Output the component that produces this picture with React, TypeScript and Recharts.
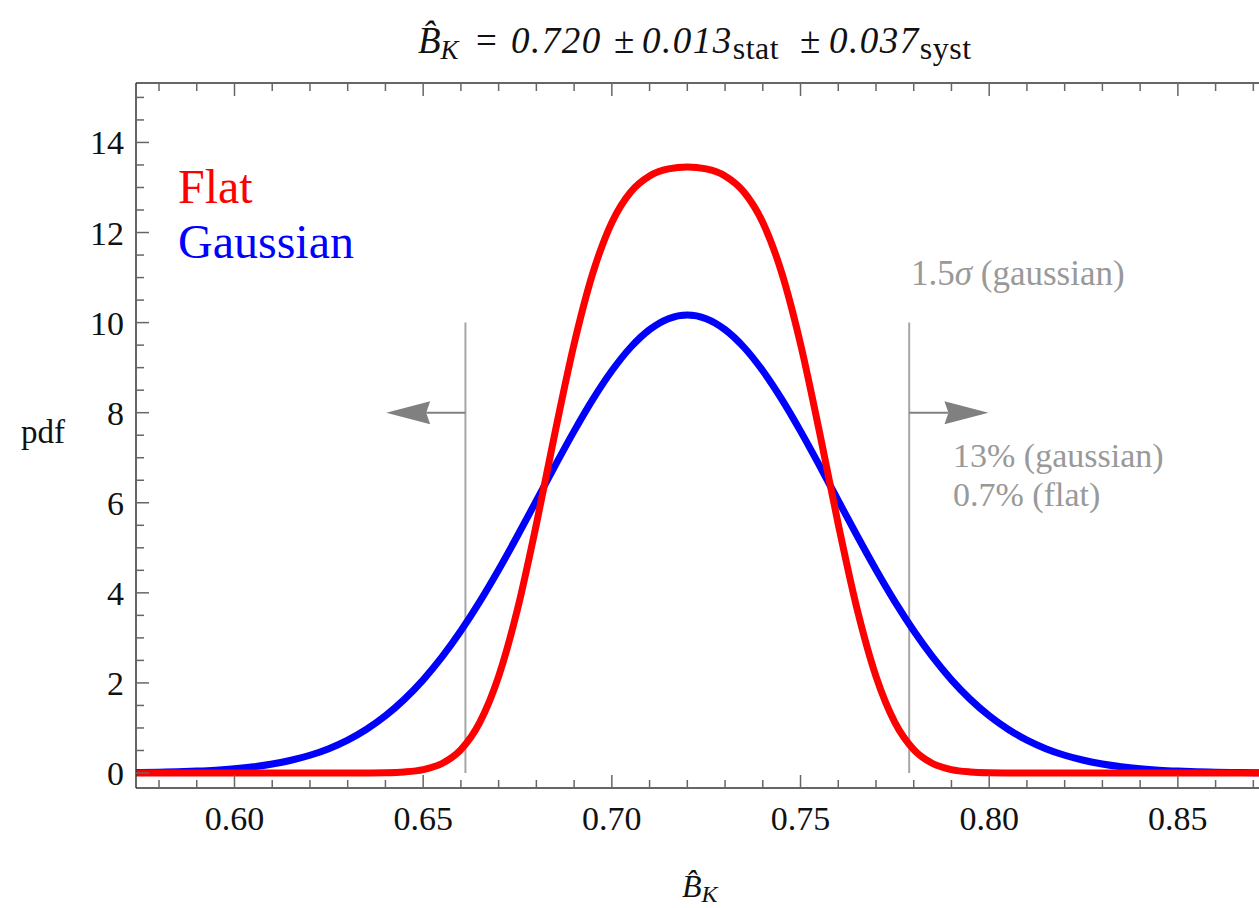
import React from 'react';
import { LineChart, Line, XAxis, YAxis, ReferenceLine } from 'recharts';

// B_K values on the x grid
const bkGrid = [
  0.57, 0.575, 0.58, 0.585, 0.59, 0.595, 0.6, 0.605, 0.61, 0.615, 0.62, 0.625, 0.63, 0.635, 0.64, 0.645,
  0.65, 0.655, 0.66, 0.665, 0.67, 0.675, 0.68, 0.685, 0.69, 0.695, 0.7, 0.705, 0.71, 0.715, 0.72,
  0.725, 0.73, 0.735, 0.74, 0.745, 0.75, 0.755, 0.76, 0.765, 0.77, 0.775, 0.78, 0.785, 0.79, 0.795,
  0.8, 0.805, 0.81, 0.815, 0.82, 0.825, 0.83, 0.835, 0.84, 0.845, 0.85, 0.855, 0.86, 0.865, 0.87, 0.875,
];

// pdf
const gaussianPdf = [
  0.007, 0.011, 0.017, 0.027, 0.042, 0.063, 0.094, 0.138, 0.199, 0.283, 0.394, 0.541, 0.731, 0.972, 1.271, 1.635,
  2.069, 2.576, 3.157, 3.805, 4.513, 5.267, 6.046, 6.83, 7.591, 8.301, 8.93, 9.453, 9.845, 10.088, 10.17,
  10.088, 9.845, 9.453, 8.93, 8.301, 7.591, 6.83, 6.046, 5.267, 4.513, 3.805, 3.157, 2.576, 2.069, 1.635,
  1.271, 0.972, 0.731, 0.541, 0.394, 0.283, 0.199, 0.138, 0.094, 0.063, 0.042, 0.027, 0.017, 0.011, 0.007, 0.004,
];

// pdf
const flatPdf = [
  0, 0, 0, 0, 0, 0, 0, 0, 0, 0, 0, 0, 0, 0.002, 0.006, 0.023,
  0.075, 0.211, 0.519, 1.123, 2.144, 3.637, 5.524, 7.583, 9.526, 11.109, 12.224, 12.901, 13.257, 13.412, 13.454,
  13.412, 13.257, 12.901, 12.224, 11.109, 9.526, 7.583, 5.524, 3.637, 2.144, 1.123, 0.519, 0.211, 0.075, 0.023,
  0.006, 0.002, 0, 0, 0, 0, 0, 0, 0, 0, 0, 0, 0, 0, 0, 0,
];

const xTicks = [
  0.58, 0.59, 0.6, 0.61, 0.62, 0.63, 0.64, 0.65, 0.66, 0.67, 0.68, 0.69, 0.7, 0.71, 0.72,
  0.73, 0.74, 0.75, 0.76, 0.77, 0.78, 0.79, 0.8, 0.81, 0.82, 0.83, 0.84, 0.85, 0.86, 0.87,
];
const xMajor = ['0.60', '0.65', '0.70', '0.75', '0.80', '0.85'];
const yTicks = [
  0, 0.5, 1, 1.5, 2, 2.5, 3, 3.5, 4, 4.5, 5, 5.5, 6, 6.5, 7, 7.5,
  8, 8.5, 9, 9.5, 10, 10.5, 11, 11.5, 12, 12.5, 13, 13.5, 14, 14.5, 15,
];
const yMajor = [0, 2, 4, 6, 8, 10, 12, 14];

// 1.5 sigma cut lines and arrows
const cutLines = [0.6612, 0.7788];
const arrowTips = [0.6402, 0.7998];
const cutTop = 10;
const arrowLevel = 8;

const data = bkGrid.map((bk, i) => ({ bk, gaussian: gaussianPdf[i], flat: flatPdf[i] }));

const FONT = '"Liberation Serif", "Times New Roman", serif';
const GRAY = '#999999';

const BottomTick = ({ x, y, payload }: any) => {
  const label = payload.value.toFixed(2);
  const major = xMajor.includes(label);
  return (
    <g>
      <line x1={x} x2={x} y1={y} y2={y - (major ? 13 : 8)} stroke="#666" strokeWidth={1.5} />
      {major && (
        <text x={x} y={y + 42} textAnchor="middle" fontFamily={FONT} fontSize={34} fill="#111">
          {label}
        </text>
      )}
    </g>
  );
};

const TopTick = ({ x, y, payload }: any) => {
  const major = xMajor.includes(payload.value.toFixed(2));
  return <line x1={x} x2={x} y1={y} y2={y + (major ? 13 : 8)} stroke="#666" strokeWidth={1.5} />;
};

const LeftTick = ({ x, y, payload }: any) => {
  const major = yMajor.includes(payload.value);
  return (
    <g>
      <line x1={x} x2={x + (major ? 13 : 8)} y1={y} y2={y} stroke="#666" strokeWidth={1.5} />
      {major && (
        <text x={x - 12} y={y + 12} textAnchor="end" fontFamily={FONT} fontSize={34} fill="#111">
          {payload.value}
        </text>
      )}
    </g>
  );
};

const Arrow = (props: any) => {
  const { x1, y1, x2, y2 } = props;
  const dir = x2 > x1 ? 1 : -1;
  return (
    <g>
      <line x1={x1} y1={y1} x2={x2 - dir * 40} y2={y2} stroke="#808080" strokeWidth={2} />
      <polygon
        points={`${x2},${y2} ${x2 - dir * 44},${y2 - 11.5} ${x2 - dir * 40},${y2} ${x2 - dir * 44},${y2 + 11.5}`}
        fill="#808080"
      />
    </g>
  );
};

export default function App() {
  return (
    <div style={{ position: 'absolute', left: 0, top: 0, width: 1259, height: 908, background: '#fff' }}>
      <LineChart width={1259} height={908} data={data} margin={{ top: 53, right: 0, bottom: 0, left: 0 }}>
        <XAxis
          xAxisId="bottom"
          dataKey="bk"
          type="number"
          domain={[0.5739, 0.8715]}
          allowDataOverflow
          ticks={xTicks}
          interval={0}
          height={120}
          tickSize={0}
          tickMargin={0}
          tick={<BottomTick />}
          axisLine={{ stroke: '#333', strokeWidth: 1.5 }}
          tickLine={false}
        />
        <XAxis
          xAxisId="top"
          orientation="top"
          dataKey="bk"
          type="number"
          domain={[0.5739, 0.8715]}
          allowDataOverflow
          ticks={xTicks}
          interval={0}
          height={30}
          tickSize={0}
          tickMargin={0}
          tick={<TopTick />}
          axisLine={{ stroke: '#333', strokeWidth: 1.5 }}
          tickLine={false}
        />
        <YAxis
          type="number"
          domain={[-0.333, 15.32]}
          allowDataOverflow
          ticks={yTicks}
          interval={0}
          width={136}
          tickSize={0}
          tickMargin={0}
          tick={<LeftTick />}
          axisLine={{ stroke: '#333', strokeWidth: 1.5 }}
          tickLine={false}
        />
        {cutLines.map((cx) => (
          <ReferenceLine
            key={`cut-${cx}`}
            xAxisId="bottom"
            segment={[{ x: cx, y: 0 }, { x: cx, y: cutTop }]}
            stroke="#a6a6a6"
            strokeWidth={2}
          />
        ))}
        {cutLines.map((cx, i) => (
          <ReferenceLine
            key={`arrow-${cx}`}
            xAxisId="bottom"
            segment={[{ x: cx, y: arrowLevel }, { x: arrowTips[i], y: arrowLevel }]}
            shape={<Arrow />}
          />
        ))}
        <Line
          xAxisId="bottom"
          dataKey="gaussian"
          type="monotone"
          stroke="#0000ff"
          strokeWidth={7}
          dot={false}
          isAnimationActive={false}
        />
        <Line
          xAxisId="bottom"
          dataKey="flat"
          type="monotone"
          stroke="#ff0000"
          strokeWidth={7}
          dot={false}
          isAnimationActive={false}
        />
      </LineChart>
      <svg
        width={1259}
        height={908}
        style={{ position: 'absolute', left: 0, top: 0, pointerEvents: 'none' }}
        fontFamily={FONT}
      >
        <text y={53} fontSize={37} fill="#111">
          <tspan x={418} fontStyle="italic">B̂</tspan>
          <tspan fontStyle="italic" fontSize={27} dy={6}>K</tspan>
          <tspan x={476} dy={-6}>=</tspan>
          <tspan x={511} fontStyle="italic" letterSpacing={1.5}>0.720</tspan>
          <tspan x={614}>±</tspan>
          <tspan x={642} fontStyle="italic" letterSpacing={1.5}>0.013</tspan>
          <tspan fontSize={32} dy={6} letterSpacing={0.5}>stat</tspan>
          <tspan x={800} dy={-6}>±</tspan>
          <tspan x={829} fontStyle="italic" letterSpacing={1.5}>0.037</tspan>
          <tspan fontSize={32} dy={6} letterSpacing={0.5}>syst</tspan>
        </text>
        <text x={178} y={203} fontSize={48} fill="#ff0000">Flat</text>
        <text x={178} y={258} fontSize={48} fill="#0000ff">Gaussian</text>
        <text x={21} y={443} fontSize={33} fill="#111">pdf</text>
        <text x={682} y={897} fontSize={32} fill="#111">
          <tspan fontStyle="italic">B̂</tspan>
          <tspan fontStyle="italic" fontSize={24} dy={5}>K</tspan>
        </text>
        <text x={911} y={285} fontSize={35} fill={GRAY}>
          <tspan>1.5</tspan>
          <tspan fontStyle="italic">σ</tspan>
          <tspan> (gaussian)</tspan>
        </text>
        <text x={953} y={467} fontSize={34} fill={GRAY}>13% (gaussian)</text>
        <text x={953} y={506} fontSize={34} fill={GRAY}>0.7% (flat)</text>
      </svg>
    </div>
  );
}
